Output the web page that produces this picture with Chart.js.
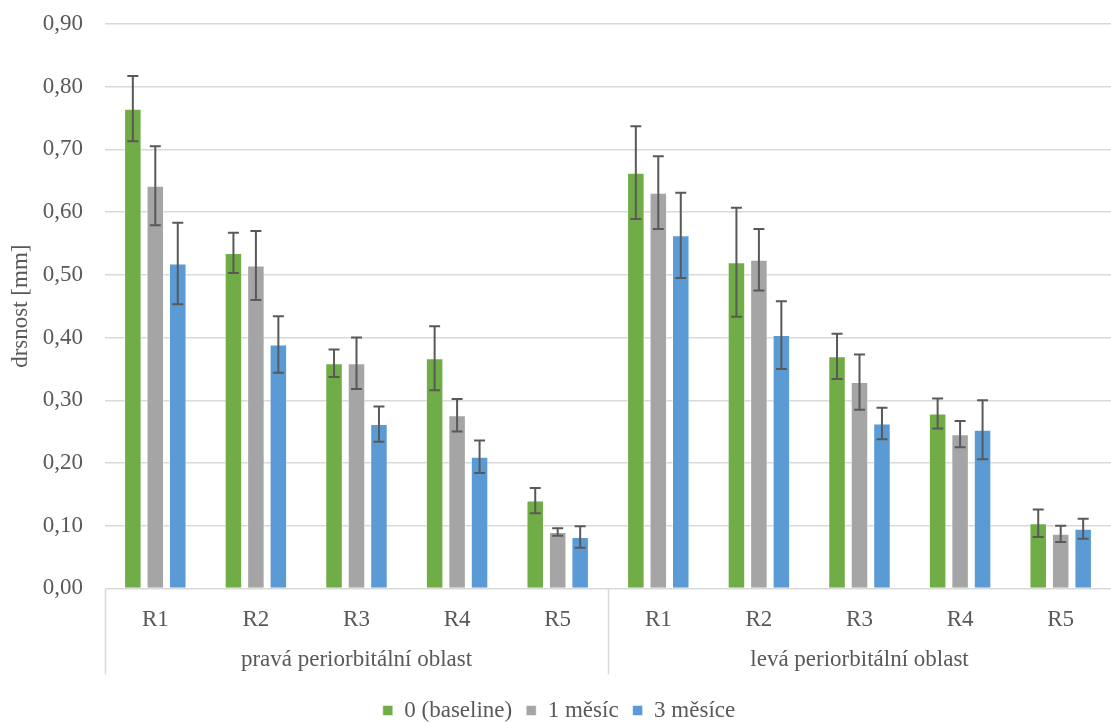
<!DOCTYPE html>
<html>
<head>
<meta charset="utf-8">
<script src="https://cdn.jsdelivr.net/npm/chart.js@4/dist/chart.umd.min.js"></script>
<style>
    html, body { margin: 0; padding: 0; background: #fff; }
    #wrap { width: 1111px; height: 723px; }
</style>
</head>
<body>
<div id="wrap"><canvas id="chart"></canvas></div>
<script>
// Data
const categories = ['R1', 'R2', 'R3', 'R4', 'R5', 'R1', 'R2', 'R3', 'R4', 'R5'];
const groups = ['pravá periorbitální oblast', 'levá periorbitální oblast'];
const seriesNames = ['0 (baseline)', '1 měsíc', '3 měsíce'];

const baseline = [0.765, 0.535, 0.359, 0.367, 0.140, 0.663, 0.520, 0.370, 0.279, 0.104];
const month1   = [0.642, 0.515, 0.359, 0.276, 0.090, 0.631, 0.524, 0.329, 0.246, 0.087];
const month3   = [0.518, 0.389, 0.262, 0.210, 0.082, 0.563, 0.404, 0.263, 0.253, 0.095];

const baselineErr = [0.052, 0.032, 0.022, 0.051, 0.020, 0.074, 0.087, 0.036, 0.024, 0.022];
const month1Err   = [0.063, 0.055, 0.041, 0.026, 0.006, 0.058, 0.049, 0.044, 0.021, 0.013];
const month3Err   = [0.065, 0.045, 0.028, 0.026, 0.017, 0.068, 0.054, 0.025, 0.047, 0.016];

const yTicks = [0, 0.1, 0.2, 0.3, 0.4, 0.5, 0.6, 0.7, 0.8, 0.9];

const FONT = "'Liberation Serif', 'Times New Roman', serif";
const TEXT = '#595959';

// error bars drawn through the y scale
const errorBars = {
    id: 'errorBars',
    afterDatasetsDraw(chart) {
        const { ctx, scales: { y } } = chart;
        ctx.save();
        ctx.strokeStyle = '#595959';
        ctx.lineWidth = 2;
        chart.data.datasets.forEach((ds, i) => {
            const meta = chart.getDatasetMeta(i);
            meta.data.forEach((bar, j) => {
                const v = ds.data[j], e = ds.errors[j];
                const top = y.getPixelForValue(v + e);
                const bot = y.getPixelForValue(v - e);
                ctx.beginPath();
                ctx.moveTo(bar.x, top); ctx.lineTo(bar.x, bot);
                ctx.moveTo(bar.x - 5.5, top); ctx.lineTo(bar.x + 5.5, top);
                ctx.moveTo(bar.x - 5.5, bot); ctx.lineTo(bar.x + 5.5, bot);
                ctx.stroke();
            });
        });
        ctx.restore();
    }
};

// second level of the x axis: group labels and separators
const groupAxis = {
    id: 'groupAxis',
    afterDraw(chart) {
        const { ctx, chartArea, scales: { x } } = chart;
        const per = categories.length / groups.length;
        ctx.save();
        ctx.strokeStyle = '#d9d9d9';
        ctx.lineWidth = 1.5;
        const lineBottom = chartArea.bottom + 86;
        const edges = [chartArea.left];
        for (let g = 1; g < groups.length; g++) {
            edges.push((x.getPixelForValue(g * per - 1) + x.getPixelForValue(g * per)) / 2);
        }
        edges.forEach(px => {
            ctx.beginPath();
            ctx.moveTo(Math.round(px) + 0.5, chartArea.bottom);
            ctx.lineTo(Math.round(px) + 0.5, lineBottom);
            ctx.stroke();
        });
        ctx.fillStyle = TEXT;
        ctx.font = '23px ' + FONT;
        ctx.textAlign = 'center';
        ctx.textBaseline = 'middle';
        groups.forEach((name, g) => {
            const a = x.getPixelForValue(g * per);
            const b = x.getPixelForValue(g * per + per - 1);
            ctx.fillText(name, (a + b) / 2, chartArea.bottom + 72);
        });
        ctx.restore();
    }
};

const colors = ['#70AD47', '#A5A5A5', '#5B9BD5'];
const values = [baseline, month1, month3];
const errors = [baselineErr, month1Err, month3Err];

new Chart(document.getElementById('chart'), {
    type: 'bar',
    data: {
        labels: categories,
        datasets: seriesNames.map((name, i) => ({
            label: name,
            data: values[i],
            errors: errors[i],
            backgroundColor: colors[i],
            borderColor: 'rgba(255,255,255,0.5)',
            borderWidth: 1,
            categoryPercentage: 0.67,
            barPercentage: 0.78,
        })),
    },
    options: {
        responsive: true,
        maintainAspectRatio: false,
        animation: false,
        layout: { padding: { top: 24, right: 0, left: 7, bottom: -9 } },
        plugins: {
            legend: {
                position: 'bottom',
                labels: {
                    boxWidth: 10, boxHeight: 10, padding: 14,
                    color: TEXT, font: { family: FONT, size: 23 },
                },
            },
            tooltip: { enabled: false },
        },
        scales: {
            x: {
                grid: { display: false },
                border: { display: false },
                ticks: { color: TEXT, font: { family: FONT, size: 23 }, padding: 10, maxRotation: 0 },
                afterFit(scale) { scale.height += 41; },
            },
            y: {
                min: 0,
                max: 0.9,
                afterBuildTicks(scale) { scale.ticks = yTicks.map(v => ({ value: v })); },
                afterFit(scale) { scale.width = 98; scale.paddingTop = 0; },
                grid: { color: '#d9d9d9', lineWidth: 1.5, drawTicks: false },
                border: { display: false },
                ticks: {
                    color: TEXT, font: { family: FONT, size: 23 }, padding: 22,
                    callback: v => v.toFixed(2).replace('.', ','),
                },
                title: {
                    display: true, text: 'drsnost [mm]',
                    color: TEXT, font: { family: FONT, size: 23 }, padding: 0,
                },
            },
        },
    },
    plugins: [errorBars, groupAxis],
});
</script>
</body>
</html>
